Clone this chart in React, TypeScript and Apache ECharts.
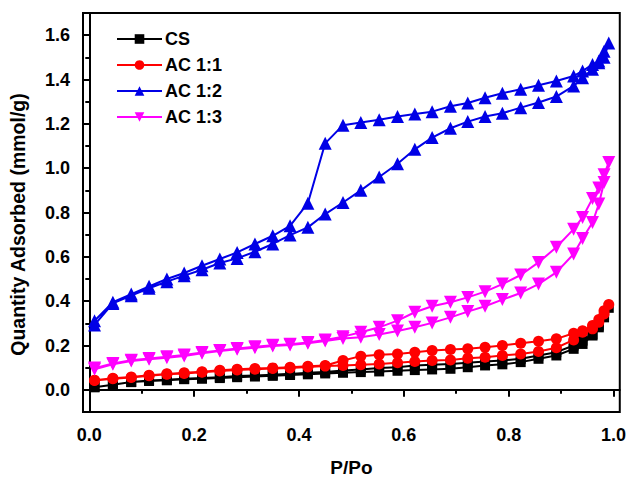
import React, { useEffect, useRef } from "react";
import * as echarts from "echarts";

// Relative pressure points (adsorption: ascending, desorption: descending)
const pAds = [0.01, 0.045, 0.08, 0.114, 0.148, 0.181, 0.215, 0.249, 0.282, 0.316, 0.35, 0.383, 0.417, 0.45, 0.484, 0.518, 0.553, 0.588, 0.621, 0.654, 0.689, 0.722, 0.755, 0.788, 0.823, 0.857, 0.891, 0.924, 0.941, 0.96, 0.972, 0.982, 0.991];
const pDes = [0.982, 0.972, 0.96, 0.941, 0.924, 0.891, 0.857, 0.823, 0.788, 0.755, 0.722, 0.689, 0.654, 0.621, 0.588, 0.553, 0.518, 0.484, 0.45, 0.417, 0.383, 0.35, 0.316, 0.282, 0.249, 0.215, 0.181, 0.148, 0.114, 0.08, 0.045, 0.01];

// Quantity adsorbed (mmol/g)
const csAds = [0.012, 0.023, 0.035, 0.04, 0.043, 0.048, 0.05, 0.053, 0.057, 0.06, 0.063, 0.067, 0.07, 0.074, 0.077, 0.08, 0.083, 0.086, 0.089, 0.092, 0.095, 0.102, 0.11, 0.115, 0.125, 0.14, 0.155, 0.185, 0.207, 0.245, 0.282, 0.327, 0.37];
const csDes = [0.335, 0.29, 0.25, 0.222, 0.2, 0.17, 0.155, 0.14, 0.132, 0.128, 0.122, 0.117, 0.113, 0.11, 0.102, 0.098, 0.092, 0.087, 0.08, 0.077, 0.072, 0.068, 0.065, 0.062, 0.057, 0.053, 0.05, 0.045, 0.042, 0.035, 0.023, 0.012];
const ac11Ads = [0.042, 0.05, 0.056, 0.064, 0.07, 0.074, 0.079, 0.085, 0.09, 0.093, 0.096, 0.099, 0.103, 0.107, 0.11, 0.113, 0.117, 0.122, 0.128, 0.132, 0.135, 0.143, 0.147, 0.155, 0.162, 0.173, 0.19, 0.225, 0.26, 0.275, 0.305, 0.342, 0.385];
const ac11Des = [0.357, 0.317, 0.29, 0.267, 0.255, 0.23, 0.219, 0.21, 0.2, 0.192, 0.185, 0.182, 0.177, 0.17, 0.162, 0.158, 0.152, 0.132, 0.11, 0.106, 0.102, 0.099, 0.096, 0.093, 0.088, 0.082, 0.077, 0.072, 0.066, 0.058, 0.052, 0.043];
const ac12Ads = [0.293, 0.39, 0.425, 0.458, 0.488, 0.515, 0.542, 0.572, 0.593, 0.623, 0.658, 0.698, 0.733, 0.793, 0.845, 0.9, 0.96, 1.02, 1.085, 1.138, 1.18, 1.21, 1.233, 1.248, 1.273, 1.296, 1.323, 1.371, 1.408, 1.446, 1.476, 1.528, 1.565];
const ac12Des = [1.5, 1.483, 1.468, 1.438, 1.416, 1.393, 1.374, 1.356, 1.338, 1.318, 1.294, 1.279, 1.255, 1.244, 1.233, 1.218, 1.206, 1.194, 1.112, 0.842, 0.74, 0.695, 0.658, 0.62, 0.59, 0.56, 0.527, 0.5, 0.467, 0.432, 0.395, 0.312];
const ac13Ads = [0.093, 0.115, 0.13, 0.138, 0.145, 0.153, 0.165, 0.175, 0.183, 0.19, 0.198, 0.202, 0.21, 0.22, 0.232, 0.237, 0.25, 0.265, 0.282, 0.302, 0.327, 0.353, 0.377, 0.407, 0.437, 0.477, 0.53, 0.613, 0.683, 0.755, 0.838, 0.935, 1.026];
const ac13Des = [0.97, 0.91, 0.863, 0.778, 0.725, 0.643, 0.575, 0.518, 0.477, 0.443, 0.417, 0.395, 0.377, 0.35, 0.312, 0.282, 0.26, 0.24, 0.225, 0.214, 0.206, 0.201, 0.194, 0.186, 0.178, 0.168, 0.157, 0.149, 0.141, 0.133, 0.119, 0.098];

const seriesNames = ["CS", "AC 1:1", "AC 1:2", "AC 1:3"];
const xMajorTicks = [0, 0.2, 0.4, 0.6, 0.8, 1.0];
const xMinorTicks = [0.1, 0.3, 0.5, 0.7, 0.9];
const yMajorTicks = [0, 0.2, 0.4, 0.6, 0.8, 1.0, 1.2, 1.4, 1.6];
const yMinorTicks = [0.1, 0.3, 0.5, 0.7, 0.9, 1.1, 1.3, 1.5];

const FONT = '"Liberation Sans", Arial, sans-serif';

function loop(ads: number[], des: number[]) {
  return pAds.map((p, i) => [p, ads[i]]).concat(pDes.map((p, i) => [p, des[i]]));
}

export default function App() {
  const ref = useRef<HTMLDivElement>(null);
  useEffect(() => {
    document.body.style.margin = "0";
    const chart = echarts.init(ref.current!, null, { renderer: "svg" });
    const xMin = -0.012, xMax = 1.012, yMin = -0.1, yMax = 1.7;
    const axisLine = { show: true, lineStyle: { color: "#000", width: 2 } };
    const labelStyle = { color: "#000", fontSize: 18, fontWeight: "bold" as const, fontFamily: FONT };
    const styles = [
      { color: "#000000", symbol: "rect", size: 10, rotate: 0 },
      { color: "#ff0000", symbol: "circle", size: 11, rotate: 0 },
      { color: "#0000e6", symbol: "triangle", size: 13, rotate: 0 },
      { color: "#ff00ff", symbol: "triangle", size: 13, rotate: 180 },
    ];
    const dataSets = [loop(csAds, csDes), loop(ac11Ads, ac11Des), loop(ac12Ads, ac12Des), loop(ac13Ads, ac13Des)];
    chart.setOption({
      animation: false,
      grid: { left: 83, right: 7, top: 13, bottom: 69, show: true, borderColor: "#000", borderWidth: 2, backgroundColor: "transparent" },
      legend: {
        orient: "vertical",
        left: 111,
        top: 25,
        itemWidth: 45,
        itemHeight: 12,
        itemGap: 8,
        data: seriesNames,
        textStyle: { color: "#000", fontSize: 18, fontWeight: "bold", fontFamily: FONT, padding: [0, 0, 0, -2] },
      },
      xAxis: [
        {
          type: "value", min: xMin, max: xMax, position: "bottom",
          axisLine,
          splitLine: { show: false },
          axisTick: { show: true, inside: false, length: 7, lineStyle: { color: "#000", width: 2 }, customValues: xMajorTicks },
          axisLabel: { ...labelStyle, margin: 14, customValues: xMajorTicks, formatter: (v: number) => v.toFixed(1) },
          name: "P/Po", nameLocation: "middle", nameGap: 46,
          nameTextStyle: { color: "#000", fontSize: 19, fontWeight: "bold", fontFamily: FONT },
        },
        {
          type: "value", min: xMin, max: xMax, position: "bottom",
          axisLine: { show: false },
          splitLine: { show: false },
          axisTick: { show: true, inside: false, length: 4, lineStyle: { color: "#000", width: 2 }, customValues: xMinorTicks },
          axisLabel: { show: false },
        },
      ],
      yAxis: [
        {
          type: "value", min: yMin, max: yMax, position: "left",
          axisLine,
          splitLine: { show: false },
          axisTick: { show: true, inside: false, length: 7, lineStyle: { color: "#000", width: 2 }, customValues: yMajorTicks },
          axisLabel: { ...labelStyle, margin: 13, customValues: yMajorTicks, formatter: (v: number) => v.toFixed(1) },
          name: "Quantity Adsorbed (mmol/g)", nameLocation: "middle", nameGap: 55,
          nameTextStyle: { color: "#000", fontSize: 19.5, fontWeight: "bold", fontFamily: FONT, padding: [0, 24, 0, 0] },
        },
        {
          type: "value", min: yMin, max: yMax, position: "left",
          axisLine: { show: false },
          splitLine: { show: false },
          axisTick: { show: true, inside: false, length: 4, lineStyle: { color: "#000", width: 2 }, customValues: yMinorTicks },
          axisLabel: { show: false },
        },
      ],
      series: seriesNames.map((name, i) => ({
        name,
        type: "line",
        xAxisIndex: 0,
        yAxisIndex: 0,
        data: dataSets[i],
        showSymbol: true,
        symbol: styles[i].symbol,
        symbolSize: styles[i].size,
        symbolRotate: styles[i].rotate,
        lineStyle: { color: styles[i].color, width: 2 },
        itemStyle: { color: styles[i].color },
        emphasis: { disabled: true },
        z: 2 + i,
      })),
    });
    return () => chart.dispose();
  }, []);
  return <div ref={ref} style={{ width: 629, height: 482 }} />;
}
